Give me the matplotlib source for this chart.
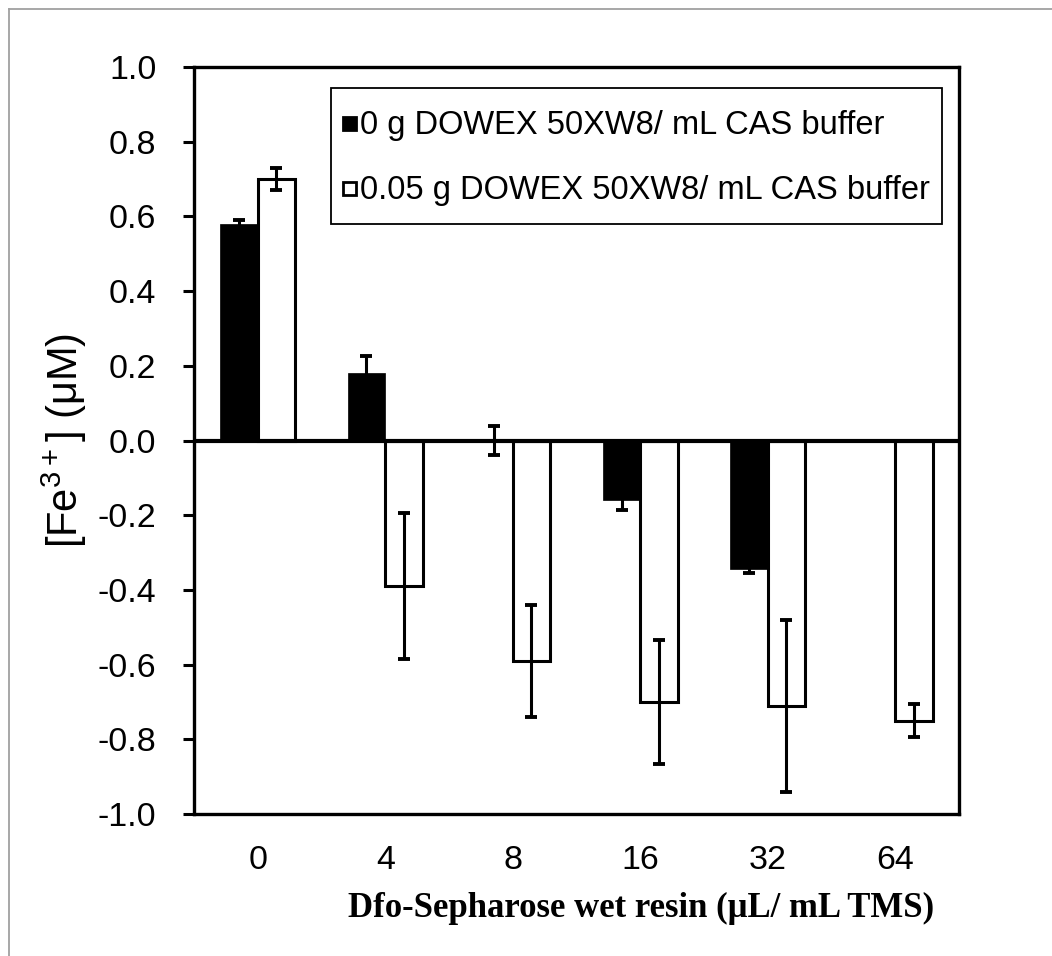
# fe_dowex_bars.py
# Residual Fe3+ after Dfo-Sepharose treatment, with and without DOWEX resin.

import matplotlib
matplotlib.use("Agg")
import matplotlib.pyplot as plt
import numpy as np
from matplotlib.lines import Line2D
from matplotlib.patches import Rectangle
from matplotlib.container import BarContainer
from matplotlib.legend_handler import HandlerPatch

# resin volumes (uL / mL TMS)
categories = ['0', '4', '8', '16', '32', '64']

# 0 g DOWEX 50XW8 / mL CAS buffer
no_dowex = [0.58, 0.18, 0.0, -0.16, -0.345, 0.0]
no_dowex_err = [0.01, 0.045, 0.038, 0.025, 0.01, 0.0]

# 0.05 g DOWEX 50XW8 / mL CAS buffer
dowex = [0.70, -0.39, -0.59, -0.70, -0.71, -0.75]
dowex_err = [0.03, 0.195, 0.15, 0.165, 0.23, 0.045]

y_ticks = [-1.0, -0.8, -0.6, -0.4, -0.2, 0.0, 0.2, 0.4, 0.6, 0.8, 1.0]

plt.rcParams['font.family'] = ['Liberation Sans', 'DejaVu Sans']
plt.rcParams['axes.unicode_minus'] = False
plt.rcParams['mathtext.default'] = 'regular'


def small_square(legend, orig_handle, xdescent, ydescent, width, height, fontsize):
    # square key, vertically centred in a taller legend row
    return Rectangle((-xdescent, -ydescent + (height - width) / 2), width, width)


def copy_bar_style(tgt, src):
    tgt.update_from(src.patches[0])


def plot_bars():
    fig = plt.figure(figsize=(10.52, 9.56), dpi=100)
    ax = fig.add_axes([0.1844, 0.1485, 0.7272, 0.7814])

    x = np.arange(len(categories))
    w = 0.294

    ax.bar(x - w / 2, no_dowex, width=w, color='black', edgecolor='black',
           linewidth=0.5, label='0 g DOWEX 50XW8/ mL CAS buffer', zorder=2)
    ax.bar(x + w / 2, dowex, width=w, color='white', edgecolor='black',
           linewidth=2.2, label='0.05 g DOWEX 50XW8/ mL CAS buffer', zorder=2)

    err_kw = dict(fmt='none', ecolor='black', elinewidth=2.2,
                  capsize=4.5, capthick=2.8, zorder=4)
    ax.errorbar(x - w / 2, no_dowex, yerr=no_dowex_err, **err_kw)
    ax.errorbar(x + w / 2, dowex, yerr=dowex_err, **err_kw)

    # zero line acts as the category axis
    ax.axhline(0, color='black', linewidth=3.0, zorder=3)

    ax.set_xlim(-0.5, len(categories) - 0.5)
    ax.set_ylim(-1.0, 1.0)
    ax.set_yticks(y_ticks)
    ax.set_yticklabels([f'{t:.1f}' for t in y_ticks])
    ax.set_xticks(x)
    ax.set_xticklabels(categories)

    ax.tick_params(axis='y', direction='out', length=8, width=2.2,
                   pad=19, labelsize=24.5)
    ax.tick_params(axis='x', length=0, pad=22, labelsize=24.5)

    for sp in ax.spines.values():
        sp.set_linewidth(2.4)
        sp.set_color('black')

    ax.set_ylabel('[Fe$^{3+}$] (μM)', fontsize=30)
    ax.yaxis.set_label_coords(-0.137, 0.5)
    ax.set_xlabel('Dfo-Sepharose wet resin (μL/ mL TMS)', fontsize=25,
                  fontweight='bold', family=['Liberation Serif', 'DejaVu Serif'])
    ax.xaxis.set_label_coords(0.584, -0.104)

    square = HandlerPatch(patch_func=small_square, update_func=copy_bar_style)
    leg = ax.legend(loc='upper right', bbox_to_anchor=(0.978, 0.972),
                    borderaxespad=0, fontsize=23.5, handlelength=0.42,
                    handleheight=1.84, handletextpad=0.12, labelspacing=0.55,
                    borderpad=0.37, fancybox=False, framealpha=1,
                    handler_map={BarContainer: square})
    leg.get_frame().set_edgecolor('black')
    leg.get_frame().set_linewidth(1.3)
    for h in leg.legend_handles:
        h.set_linewidth(2.0)

    # outer chart border (only top/left fall inside the image)
    fx = 9 / 1052
    fy = 1 - 9 / 956
    fig.add_artist(Line2D([fx, 1.0], [fy, fy], color='#a0a0a0', linewidth=1.3))
    fig.add_artist(Line2D([fx, fx], [0.0, fy], color='#a0a0a0', linewidth=1.3))

    fig.savefig('out.png', dpi=100)


if __name__ == '__main__':
    plot_bars()
